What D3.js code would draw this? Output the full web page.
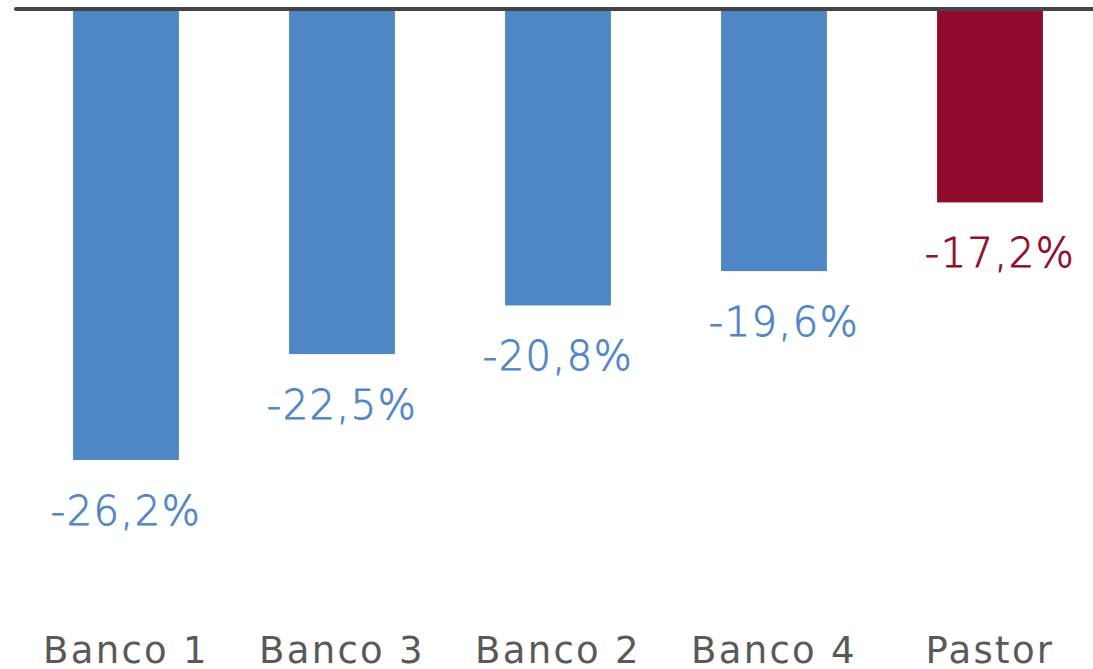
<!DOCTYPE html>
<html><head><meta charset="utf-8">
<script src="https://cdn.jsdelivr.net/npm/d3@7"></script>
<style>body{margin:0;background:#fff}svg{display:block}</style>
</head><body>
<svg id="c" width="1093" height="669"></svg>
<script>
const categories = ["Banco 1","Banco 3","Banco 2","Banco 4","Pastor"];
const values = [-26.2,-22.5,-20.8,-19.6,-17.2];
const labels = ["-26,2%","-22,5%","-20,8%","-19,6%","-17,2%"];
const highlight = ["Pastor"];

const svg = d3.select("#c");
const x = d3.scaleBand().domain(categories).range([18,1098]).paddingInner(0.51).paddingOuter(0.255);
const y = d3.scaleLinear().domain([-10.44,-30]).range([9,568.7]);
const blue = "#4F86C6", red = "#8F0A2B";
const col = d => highlight.includes(d) ? red : blue;

svg.selectAll("rect.bar").data(categories).join("rect")
  .attr("x", d => x(d)).attr("width", x.bandwidth())
  .attr("y", y(-10.44)).attr("height", (d,i) => y(values[i]) - y(-10.44))
  .attr("fill", col);

svg.append("line").attr("x1",16).attr("x2",1093).attr("y1",9).attr("y2",9)
  .attr("stroke","#444").attr("stroke-width",4).attr("stroke-linecap","round");

svg.selectAll("text.val").data(categories).join("text")
  .attr("x", (d,i) => x(d) + x.bandwidth()/2 + (labels[i].includes("1") ? 10 : 0))
  .attr("y", (d,i) => y(values[i]) + 65)
  .attr("text-anchor","middle")
  .attr("font-family","DejaVu Sans").attr("font-weight",200).attr("font-size",40).attr("letter-spacing",1.5)
  .attr("fill", col).attr("stroke", col).attr("stroke-width",0.8)
  .text((d,i) => labels[i]);

svg.selectAll("text.cat").data(categories).join("text")
  .attr("x", d => x(d) + x.bandwidth()/2)
  .attr("y", 663)
  .attr("text-anchor","middle")
  .attr("font-family","DejaVu Sans").attr("font-size",37).attr("letter-spacing",2.3)
  .attr("fill","#595959").text(d => d);
</script>
</body></html>
